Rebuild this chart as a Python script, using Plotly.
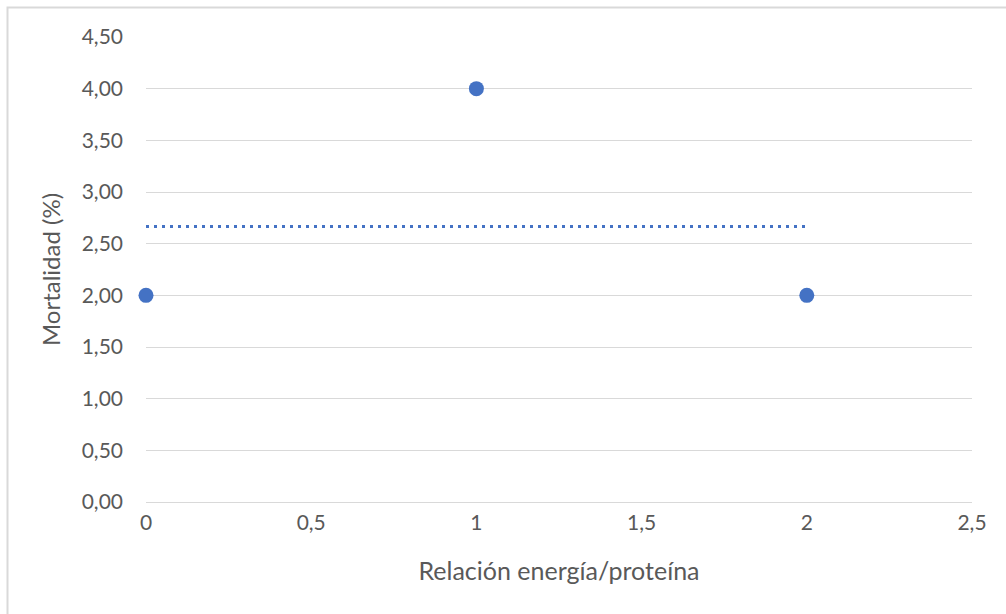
import numpy as np
import plotly.graph_objects as go

# Energy/protein ratio vs. mortality
relacion = [0, 1, 2]
mortalidad = [2.0, 4.0, 2.0]

x_ticks = [0, 0.5, 1, 1.5, 2, 2.5]
y_ticks = [0, 0.5, 1, 1.5, 2, 2.5, 3, 3.5, 4, 4.5]

BLUE = "#4472C4"
GRID = "#d9d9d9"
TEXT = "#595959"
FONT = "Lato"

# Linear trend line fitted to the points
slope, intercept = np.polyfit(relacion, mortalidad, 1)
trend_x = np.array([min(relacion), max(relacion)])
trend_y = slope * trend_x + intercept

fig = go.Figure()
fig.add_trace(go.Scatter(
    x=trend_x, y=trend_y, mode="lines",
    line=dict(color=BLUE, width=3, dash="3px,5px"),
    hoverinfo="skip", showlegend=False,
))
fig.add_trace(go.Scatter(
    x=relacion, y=mortalidad, mode="markers",
    marker=dict(color=BLUE, size=15, line=dict(width=0)),
    showlegend=False, cliponaxis=False,
))

W, H = 1006, 614
L, R, T, B = 146, 34, 37, 112
pw, ph = W - L - R, H - T - B

fig.update_layout(
    width=W, height=H,
    margin=dict(l=L, r=R, t=T, b=B),
    paper_bgcolor="white", plot_bgcolor="white",
    separators=",.",
    font=dict(family=FONT, color=TEXT, size=21),
    xaxis=dict(
        range=[0, 2.5], tickvals=x_ticks, ticks="", showgrid=False,
        zeroline=False, showline=False,
        tickfont=dict(size=21, color=TEXT), ticklabelstandoff=6,
        title=dict(text="Relación energía/proteína",
                   font=dict(size=25, color=TEXT), standoff=29),
    ),
    yaxis=dict(
        range=[0, 4.5], tickvals=y_ticks, tickformat=".2f", ticks="",
        showgrid=True, gridcolor=GRID, gridwidth=1.3,
        zeroline=True, zerolinecolor=GRID, zerolinewidth=1.3,
        showline=False,
        tickfont=dict(size=21, color=TEXT), ticklabelstandoff=22,
        title=dict(text="Mortalidad (%)",
                   font=dict(size=24, color=TEXT), standoff=14),
    ),
    shapes=[dict(
        type="rect", xref="paper", yref="paper",
        x0=(7.5 - L) / pw, x1=(W + 5 - L) / pw,
        y0=-(H + 5 - T - ph) / ph, y1=1 + (T - 7.5) / ph,
        line=dict(color=GRID, width=2), fillcolor="rgba(0,0,0,0)",
        layer="below",
    )],
)

fig.write_html("out.html")
